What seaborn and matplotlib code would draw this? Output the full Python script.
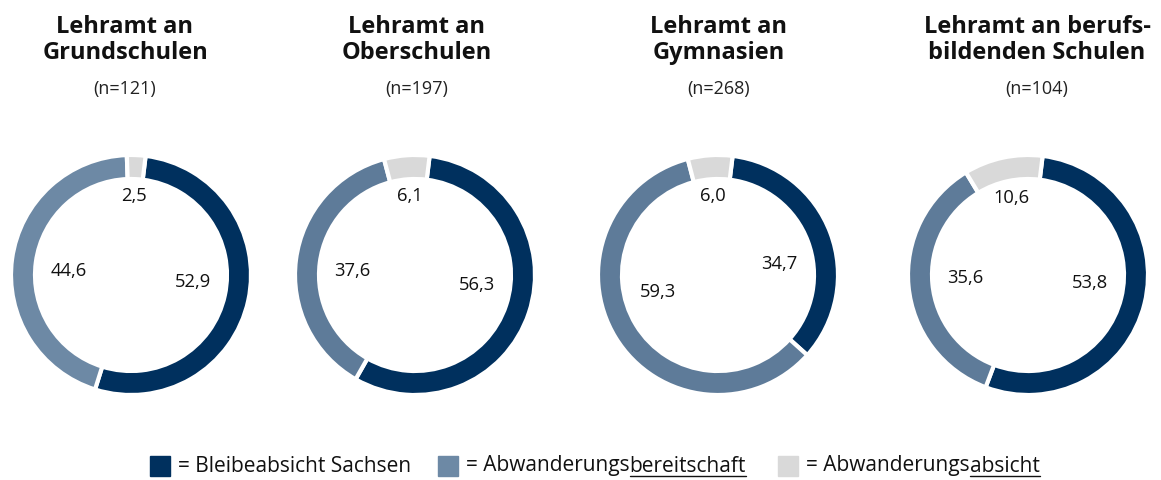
import numpy as np
import matplotlib.pyplot as plt
from matplotlib.patches import Rectangle
from matplotlib.lines import Line2D
import seaborn as sns

# data
titles = ["Lehramt an\nGrundschulen", "Lehramt an\nOberschulen",
          "Lehramt an\nGymnasien", "Lehramt an berufs-\nbildenden Schulen"]
n_values = [121, 197, 268, 104]
bleibe = [52.9, 56.3, 34.7, 53.8]
bereitschaft = [44.6, 37.6, 59.3, 35.6]
absicht = [2.5, 6.1, 6.0, 10.6]

dark = "#00305e"
mid = ["#6d89a5", "#5e7b99", "#5e7b99", "#5e7b99"]
light = "#d9d9d9"

sns.set_theme(style="white")
plt.rcParams["font.family"] = ["Open Sans", "DejaVu Sans"]

W, H = 1161, 480
fig = plt.figure(figsize=(W / 100, H / 100), dpi=100)

centers_x = [131, 415, 718, 1028]
center_y = 275
radius_px = 120
lim = 1.05
half = radius_px * lim
title_x = [125, 417, 719, 1037]
start_angle = 83

for i in range(4):
    cx = centers_x[i]
    ax = fig.add_axes([(cx - half) / W, (H - center_y - half) / H,
                       2 * half / W, 2 * half / H])
    vals = [bleibe[i], bereitschaft[i], absicht[i]]
    cols = [dark, mid[i], light]
    ax.pie(vals, colors=cols, startangle=start_angle, counterclock=False,
           radius=1.0,
           wedgeprops=dict(width=0.2, edgecolor="white", linewidth=3))
    ax.set_xlim(-lim, lim)
    ax.set_ylim(-lim, lim)
    ax.set_aspect("equal")
    ax.axis("off")

    # value labels inside the ring (pulled toward the horizontal)
    total = sum(vals)
    start = float(start_angle)
    for k, v in enumerate(vals):
        sweep = v / total * 360
        ang = start - sweep / 2
        if k == 2:
            r = 0.66
        else:
            r = 0.52
            base = 0.0 if np.cos(np.deg2rad(ang)) >= 0 else 180.0
            d = (ang - base + 180) % 360 - 180
            ang = base + 0.5 * d
        a = np.deg2rad(ang)
        ax.text(r * np.cos(a), r * np.sin(a),
                f"{v:.1f}".replace(".", ","), ha="center", va="center",
                fontsize=13.2, color="#111111")
        start -= sweep

    fig.text(title_x[i] / W, 1 - 40 / H, titles[i], ha="center", va="center",
             fontsize=17, fontweight="bold", color="#111111", linespacing=1.15)
    fig.text(title_x[i] / W, 1 - 89 / H, f"(n={n_values[i]})", ha="center",
             va="center", fontsize=13, color="#222222")

# legend with underlined parts
fig.canvas.draw()
renderer = fig.canvas.get_renderer()
legend_items = [(dark, "= Bleibeabsicht Sachsen", ""),
                (mid[0], "= Abwanderungs", "bereitschaft"),
                (light, "= Abwanderungs", "absicht")]
box_x = [150, 438, 778]
ly = H - 466
for (col, pre, under), bx in zip(legend_items, box_x):
    fig.patches.append(Rectangle((bx / W, (ly - 10) / H), 20 / W, 20 / H,
                                 transform=fig.transFigure, color=col))
    t = fig.text((bx + 28) / W, ly / H, pre, ha="left", va="center",
                 fontsize=15, color="#111111")
    ext = t.get_window_extent(renderer)
    if under:
        t2 = fig.text(ext.x1 / W, ly / H, under, ha="left", va="center",
                      fontsize=15, color="#111111")
        e2 = t2.get_window_extent(renderer)
        uy = (e2.y0 + 1) / H
        fig.lines.append(Line2D([e2.x0 / W, e2.x1 / W], [uy, uy],
                                transform=fig.transFigure, color="#111111",
                                linewidth=1))

fig.savefig("out.png", dpi=100)
